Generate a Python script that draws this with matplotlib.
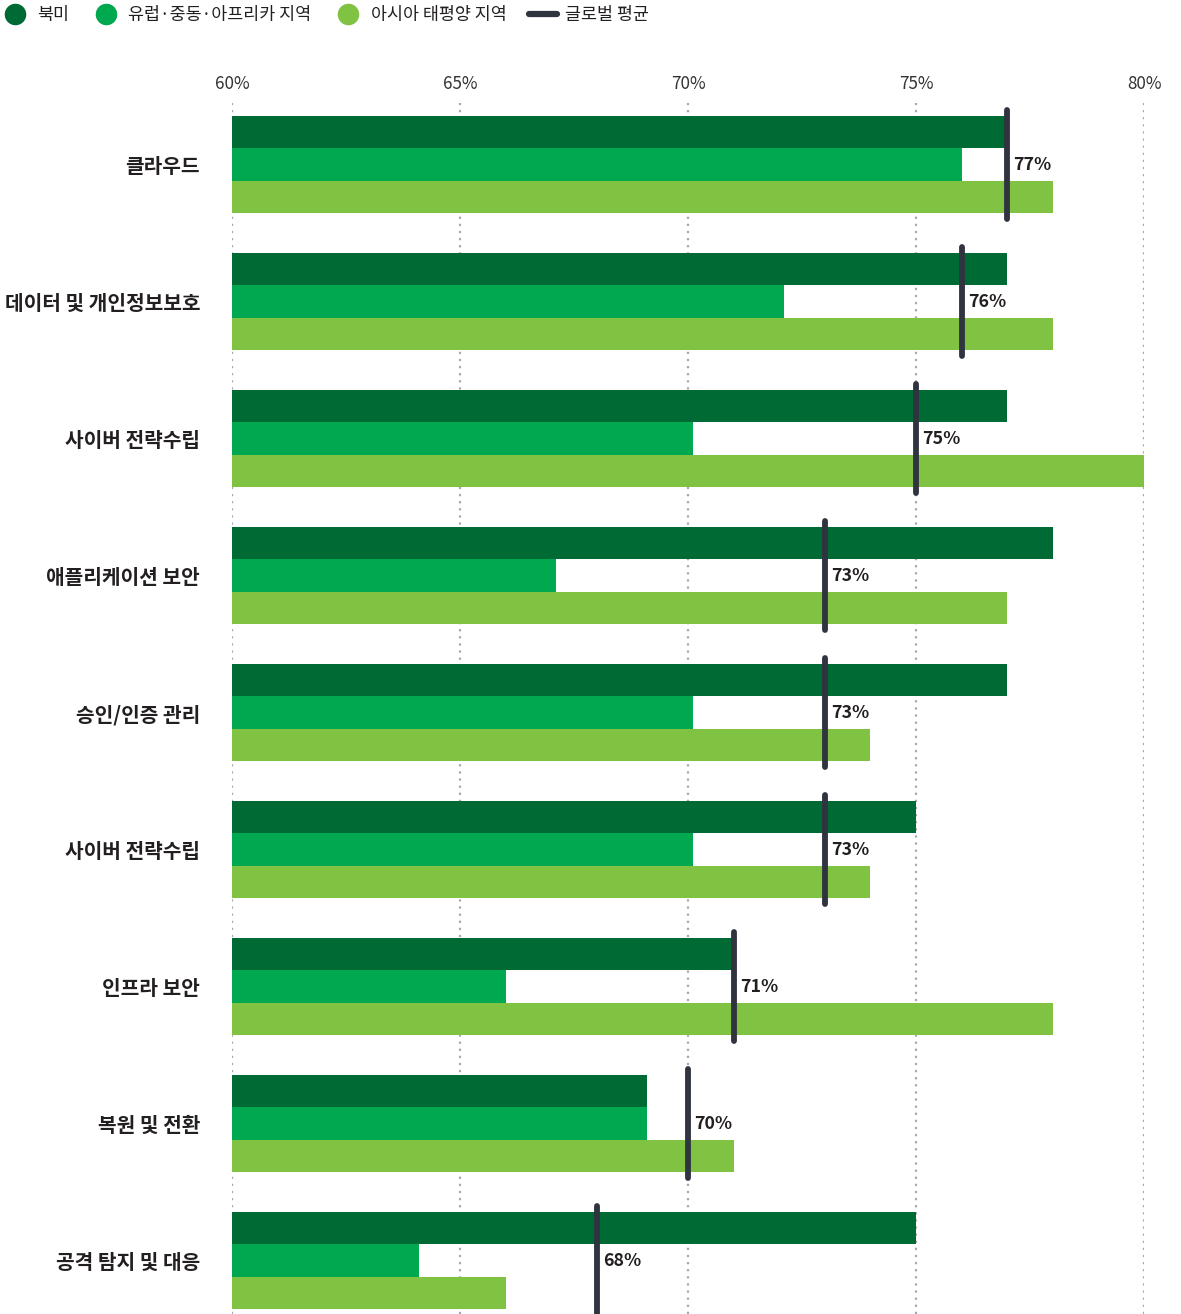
import matplotlib
matplotlib.use("Agg")
import matplotlib.pyplot as plt
from matplotlib.lines import Line2D

plt.rcParams['font.family'] = ['Noto Sans CJK KR', 'DejaVu Sans']

categories = ["클라우드", "데이터 및 개인정보보호", "사이버 전략수립", "애플리케이션 보안",
              "승인/인증 관리", "사이버 전략수립", "인프라 보안", "복원 및 전환", "공격 탐지 및 대응"]
north_america = [77, 77, 77, 78, 77, 75, 71, 69.1, 75]
emea = [76, 72.1, 70.1, 67.1, 70.1, 70.1, 66, 69.1, 64.1]
asia_pacific = [78, 78, 80, 77, 74, 74, 78, 71, 66]
global_avg = [77, 76, 75, 73, 73, 73, 71, 70, 68]

series_names = ["북미", "유럽·중동·아프리카 지역", "아시아 태평양 지역"]
avg_name = "글로벌 평균"
x_ticks = [60, 65, 70, 75, 80]

colors = ["#006a35", "#00a84f", "#80c242"]
avg_color = "#30343f"
text_color = "#231f20"

W, H = 1181, 1314
fig = plt.figure(figsize=(W / 100, H / 100), dpi=100)
ax = fig.add_axes([232 / W, 0, (1144 - 232) / W, 1 - 103 / H])

bar_h = 0.2365
offsets = [-bar_h, 0, bar_h]
ys = list(range(len(categories)))
for vals, off, col in zip([north_america, emea, asia_pacific], offsets, colors):
    ax.barh([y + off for y in ys], [v - 60 for v in vals], left=60, height=bar_h,
            color=col, zorder=2)

half = 0.398
for y, v in zip(ys, global_avg):
    ax.plot([v, v], [y - half, y + half], color=avg_color, lw=4.2,
            solid_capstyle='round', zorder=4, clip_on=True)
    ax.annotate(f"{v}%", xy=(v, y), xytext=(4.5, 0), textcoords='offset points',
                ha='left', va='center', fontsize=12.8, fontweight='bold',
                color=text_color, zorder=5)

ax.set_xlim(60, 80)
ax.set_ylim(len(categories) - 1 + 0.39, -0.449)
ax.set_xticks(x_ticks)
ax.set_xticklabels([f"{t}%" for t in x_ticks], fontsize=12.3, color="#333333")
ax.xaxis.tick_top()
ax.tick_params(axis='x', length=0, pad=7.5)
ax.set_yticks(ys)
ax.set_yticklabels(categories, fontsize=14.6, fontweight='bold', color=text_color)
ax.tick_params(axis='y', length=0, pad=23)
ax.grid(axis='x', color="#a7a9ac", linestyle=(0, (1, 2.2)), linewidth=1.6, zorder=0)
ax.set_axisbelow(True)
for s in ax.spines.values():
    s.set_visible(False)

handles = [Line2D([], [], marker='o', linestyle='none', markersize=14.5,
                  markerfacecolor=c, markeredgecolor=c) for c in colors]
handles.append(Line2D([], [], color=avg_color, lw=4.5, solid_capstyle='round'))
fig.legend(handles, series_names + [avg_name], loc='center left',
           bbox_to_anchor=(1 / W, 1 - 15 / H), ncol=4, frameon=False, fontsize=12.5,
           handlelength=1.6, handletextpad=0.5, columnspacing=1.3,
           borderaxespad=0, borderpad=0, labelcolor=text_color)

fig.savefig("out.png", dpi=100)
